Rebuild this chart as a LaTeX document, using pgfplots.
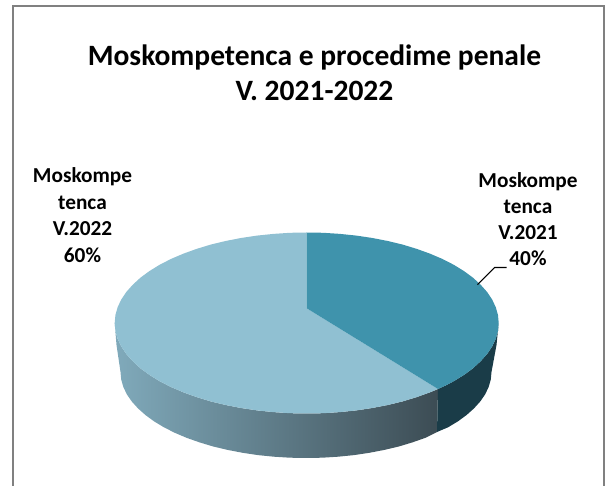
\documentclass[border=0pt]{standalone}
\usepackage{fontspec}
\setmainfont{Carlito}
\usepackage{pgfplots}
\pgfplotsset{compat=1.18}
\definecolor{frameC}{HTML}{808080}
\definecolor{sliceA}{HTML}{3F93AC}
\definecolor{sliceB}{HTML}{90C0D2}
\definecolor{sideA}{HTML}{1A3C48}
\definecolor{sideL}{HTML}{80AABB}
\definecolor{sideM}{HTML}{5C7C8A}
\definecolor{sideR}{HTML}{3C4C54}
\begin{document}
\begin{tikzpicture}
\path[use as bounding box] (0,0) rectangle (606pt,486pt);
\begin{axis}[
  at={(0,0)}, anchor=south west,
  width=606pt, height=486pt, scale only axis,
  xmin=0, xmax=606, ymin=0, ymax=486, y dir=reverse,
  axis lines=none, clip=false, ticks=none,
]
% chart frame (open at the bottom)
\addplot[draw=frameC, line width=2pt] coordinates {(12.5,486) (12.5,6) (604,6) (604,486)};
% side of the 60% slice
\addplot[draw=none, left color=sideL, middle color=sideM, right color=sideR] coordinates {
(114.7,323) (115.4,330.9) (117.6,338.7) (121.2,346.4) (126.3,354.0) (132.7,361.2) (140.4,368.3) (149.4,374.9) (159.6,381.2) (170.9,387.0) (183.3,392.3) (196.6,397.1) (210.7,401.4) (225.6,405.0) (241.0,408.0) (257.0,410.4) (273.4,412.1) (290.0,413.2) (306.7,413.5) (323.4,413.2) (340.0,412.1) (356.4,410.4) (372.4,408.0) (387.8,405.0) (402.7,401.4) (416.8,397.1) (430.1,392.3) (438,389)
(437,432) (425.2,437.9) (412.4,442.4) (398.8,446.5) (384.4,449.9) (369.4,452.8) (354.0,455.1) (338.2,456.7) (322.2,457.7) (306,458) (289.8,457.7) (273.8,456.7) (258.0,455.1) (242.6,452.8) (227.6,449.9) (213.2,446.5) (199.6,442.4) (186.8,437.9) (174.8,432.8) (163.9,427.3) (154.0,421.3) (145.4,415.0) (137.9,408.3) (131.7,401.4) (126.8,394.3) (123.3,386.9) (121.2,379.5) (120.5,372) (116.5,345)
} -- cycle;
% side of the 40% slice
\addplot[draw=none, fill=sideA] coordinates {
(438,389) (446,385.3) (453.8,381.2) (464.0,374.9) (473.0,368.3) (480.7,361.2) (487.1,354.0) (492.2,346.4) (495.8,338.7) (498.0,330.9) (498.7,323) (496.5,345) (491.5,372) (490.8,379.5) (488.7,386.9) (485.2,394.3) (480.3,401.4) (474.1,408.3) (466.6,415.0) (458.0,421.3) (448.1,427.3) (437,432)
} -- cycle;
% top of the 60% slice
\addplot[draw=none, fill=sliceB] coordinates {
(306.7,308.3) (438,389) (430.1,392.3) (416.8,397.1) (402.7,401.4) (387.8,405.0) (372.4,408.0) (356.4,410.4) (340.0,412.1) (323.4,413.2) (306.7,413.5) (290.0,413.2) (273.4,412.1) (257.0,410.4) (241.0,408.0) (225.6,405.0) (210.7,401.4) (196.6,397.1) (183.3,392.3) (170.9,387.0) (159.6,381.2) (149.4,374.9) (140.4,368.3) (132.7,361.2) (126.3,354.0) (121.2,346.4) (117.6,338.7) (115.4,330.9) (114.7,323) (115.4,315.1) (117.6,307.3) (121.2,299.6) (126.3,292.0) (132.7,284.8) (140.4,277.7) (149.4,271.1) (159.6,264.8) (170.9,259.0) (183.3,253.7) (196.6,248.9) (210.7,244.6) (225.6,241.0) (241.0,238.0) (257.0,235.6) (273.4,233.9) (290.0,232.8) (306.7,232.5)
} -- cycle;
% top of the 40% slice
\addplot[draw=none, fill=sliceA] coordinates {
(306.7,308.3) (306.7,232.5) (323.4,232.8) (340.0,233.9) (356.4,235.6) (372.4,238.0) (387.8,241.0) (402.7,244.6) (416.8,248.9) (430.1,253.7) (442.5,259.0) (453.8,264.8) (464.0,271.1) (473.0,277.7) (480.7,284.8) (487.1,292.0) (492.2,299.6) (495.8,307.3) (498.0,315.1) (498.7,323) (498.0,330.9) (495.8,338.7) (492.2,346.4) (487.1,354.0) (480.7,361.2) (473.0,368.3) (464.0,374.9) (453.8,381.2) (446,385.3) (438,389)
} -- cycle;
% leader line
\addplot[draw=black, line width=1.2pt] coordinates {(477.5,284.6) (494.6,267.5) (506.5,267.5)};
\node[align=center, font=\fontsize{29.5}{35}\selectfont\bfseries] at (axis cs:314.5,72.5) {Moskompetenca e procedime penale\\V. 2021-2022};
\node[align=center, font=\fontsize{21.3}{26.7}\selectfont\bfseries] at (axis cs:82.5,215) {Moskompe\\tenca\\V.2022\\60\%};
\node[align=center, font=\fontsize{21.3}{26}\selectfont\bfseries] at (axis cs:528,219) {Moskompe\\tenca\\V.2021\\40\%};
\end{axis}
\end{tikzpicture}
\end{document}
